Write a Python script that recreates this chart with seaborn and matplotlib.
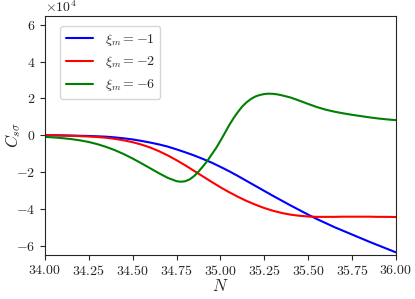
import numpy as np
import pandas as pd
import matplotlib
matplotlib.use("Agg")
import matplotlib.pyplot as plt
import seaborn as sns

# Data (values in units of 1e4)
n_blue = [34.00, 34.05, 34.10, 34.15, 34.20, 34.25, 34.30, 34.35, 34.40, 34.45,
          34.50, 34.55, 34.60, 34.65, 34.70, 34.75, 34.80, 34.85, 34.90, 34.95,
          35.00, 35.05, 35.10, 35.15, 35.20, 35.25, 35.30, 35.35, 35.40, 35.45,
          35.50, 35.55, 35.60, 35.65, 35.70, 35.75, 35.80, 35.85, 35.90, 35.95, 36.00]
c_blue = [0.0, 0.0, -0.01, -0.02, -0.03, -0.04, -0.06, -0.08, -0.12, -0.17,
          -0.23, -0.31, -0.40, -0.50, -0.62, -0.77, -0.93, -1.10, -1.29, -1.49,
          -1.72, -1.96, -2.22, -2.49, -2.76, -3.03, -3.30, -3.56, -3.82, -4.07,
          -4.32, -4.56, -4.78, -5.00, -5.20, -5.40, -5.60, -5.80, -5.99, -6.18, -6.37]

n_red = [34.00, 34.05, 34.10, 34.15, 34.20, 34.25, 34.30, 34.35, 34.40, 34.45,
         34.50, 34.55, 34.60, 34.65, 34.70, 34.75, 34.80, 34.85, 34.90, 34.95,
         35.00, 35.05, 35.10, 35.15, 35.20, 35.25, 35.30, 35.35, 35.40, 35.45,
         35.50, 35.55, 35.60, 35.65, 35.70, 35.75, 35.80, 35.85, 35.90, 35.95, 36.00]
c_red = [0.0, -0.01, -0.02, -0.03, -0.05, -0.07, -0.10, -0.14, -0.20, -0.28,
         -0.38, -0.51, -0.67, -0.87, -1.10, -1.36, -1.64, -1.94, -2.24, -2.54,
         -2.83, -3.10, -3.35, -3.58, -3.78, -3.96, -4.11, -4.23, -4.32, -4.38,
         -4.42, -4.44, -4.44, -4.44, -4.43, -4.43, -4.43, -4.43, -4.44, -4.44, -4.45]

n_green = [34.00, 34.05, 34.10, 34.15, 34.20, 34.25, 34.30, 34.35, 34.40, 34.45,
           34.50, 34.55, 34.60, 34.65, 34.70, 34.75, 34.775, 34.80, 34.825, 34.85,
           34.875, 34.90, 34.925, 34.95, 34.975, 35.00, 35.025, 35.05, 35.075, 35.10,
           35.125, 35.15, 35.175, 35.20, 35.225, 35.25, 35.275, 35.30, 35.325, 35.35,
           35.40, 35.45, 35.50, 35.55, 35.60, 35.65, 35.70, 35.75, 35.80, 35.85,
           35.90, 35.95, 36.00]
c_green = [-0.09, -0.12, -0.16, -0.21, -0.28, -0.37, -0.49, -0.64, -0.82, -1.03,
           -1.27, -1.53, -1.80, -2.07, -2.32, -2.50, -2.53, -2.50, -2.40, -2.22,
           -1.98, -1.70, -1.40, -1.05, -0.70, -0.30, 0.12, 0.55, 0.93, 1.27,
           1.57, 1.80, 1.98, 2.11, 2.19, 2.24, 2.26, 2.25, 2.22, 2.17,
           2.05, 1.88, 1.70, 1.53, 1.39, 1.28, 1.19, 1.11, 1.04, 0.97,
           0.91, 0.86, 0.82]

labels = [r"$\xi_m = -1$", r"$\xi_m = -2$", r"$\xi_m = -6$"]
colors = ["blue", "red", "green"]

frames = []
for lab, n, c in zip(labels, [n_blue, n_red, n_green], [c_blue, c_red, c_green]):
    frames.append(pd.DataFrame({"N": n, "C": np.array(c) * 1e4, "series": lab}))
df = pd.concat(frames, ignore_index=True)

sns.set_style("ticks")
plt.rcParams["font.family"] = "serif"
plt.rcParams["font.serif"] = ["cmr10", "DejaVu Serif"]
plt.rcParams["mathtext.fontset"] = "cm"
plt.rcParams["axes.formatter.use_mathtext"] = True
plt.rcParams["axes.unicode_minus"] = True

fig = plt.figure(figsize=(4.15, 2.99), dpi=100)
ax = fig.add_axes([0.1084, 0.148, 0.8456, 0.7995])

sns.lineplot(data=df, x="N", y="C", hue="series", palette=colors,
             hue_order=labels, ax=ax, linewidth=1.5, sort=True)

ax.set_xlim(34.0, 36.0)
ax.set_ylim(-6.5e4, 6.5e4)
ax.set_xticks([34.0, 34.25, 34.5, 34.75, 35.0, 35.25, 35.5, 35.75, 36.0])
ax.set_yticks([-6e4, -4e4, -2e4, 0, 2e4, 4e4, 6e4])
ax.ticklabel_format(axis="y", style="sci", scilimits=(0, 0), useMathText=True)
ax.tick_params(labelsize=10, length=3.5)
ax.set_xlabel(r"$N$", fontsize=12, labelpad=0)
ax.set_ylabel(r"$C_{s\sigma}$", fontsize=12)
ax.yaxis.set_label_coords(-0.062, 0.5)

leg = ax.legend(loc="upper left", bbox_to_anchor=(0.043, 0.957), borderaxespad=0,
                fontsize=10, title=None)

fig.savefig("out.png", dpi=100)
